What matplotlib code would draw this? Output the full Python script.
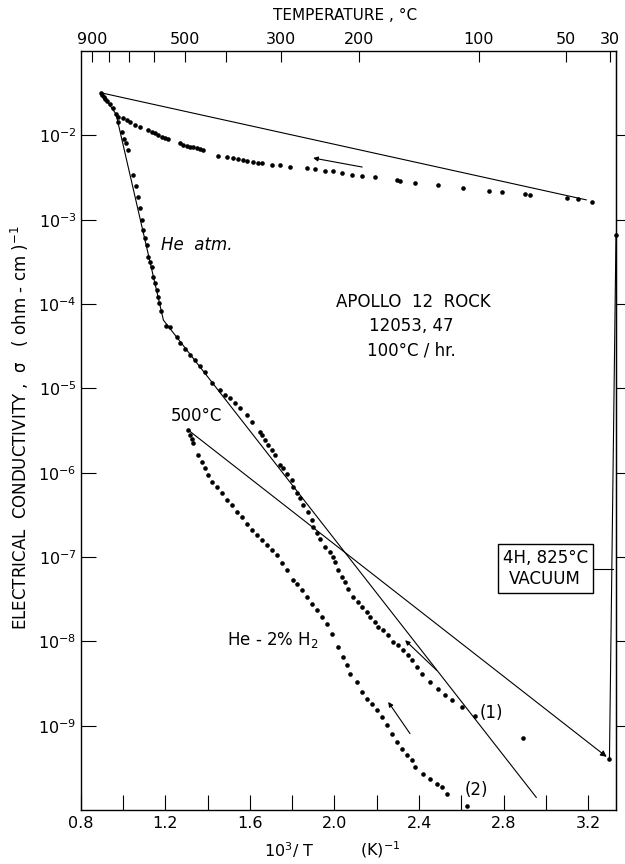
import numpy as np
import matplotlib.pyplot as plt
from matplotlib.ticker import NullLocator, FixedLocator

plt.rcParams['font.family'] = ['DejaVu Sans']
plt.rcParams['mathtext.default'] = 'regular'

# upper dotted branch (cooling after the He atm. run), x = 10^3/T, log10(sigma)
cool_x = [0.978, 1.002, 1.017, 1.033, 1.057, 1.080, 1.120, 1.136, 1.151, 1.167, 1.183, 1.199,
          1.214, 1.270, 1.285, 1.301, 1.317, 1.333, 1.348, 1.364, 1.380, 1.451, 1.490, 1.522,
          1.545, 1.569, 1.585, 1.616, 1.640, 1.656, 1.703, 1.742, 1.790, 1.868, 1.908, 1.955,
          1.994, 2.034, 2.081, 2.128, 2.191, 2.294, 2.310, 2.381, 2.491, 2.609, 2.732, 2.790,
          2.901, 2.924, 3.098, 3.153, 3.216]
cool_log = [-1.779, -1.799, -1.819, -1.838, -1.878, -1.898, -1.937, -1.957, -1.977, -1.996, -2.016, -2.036,
            -2.048, -2.095, -2.115, -2.127, -2.135, -2.143, -2.155, -2.166, -2.174, -2.246, -2.261, -2.273,
            -2.285, -2.293, -2.301, -2.313, -2.325, -2.333, -2.352, -2.355, -2.372, -2.390, -2.398, -2.420,
            -2.426, -2.443, -2.471, -2.483, -2.499, -2.530, -2.538, -2.562, -2.590, -2.621, -2.661, -2.677,
            -2.700, -2.708, -2.740, -2.756, -2.787]

# run (1), He atm.
he_x = [0.895, 0.902, 0.910, 0.917, 0.924, 0.939, 0.953, 0.967, 0.978, 0.994, 1.005, 1.014, 1.025,
        1.049, 1.061, 1.072, 1.080, 1.088, 1.096, 1.104, 1.112, 1.120, 1.128, 1.136, 1.143, 1.151,
        1.159, 1.165, 1.172, 1.180, 1.203, 1.222, 1.254, 1.269, 1.293, 1.317, 1.340, 1.364, 1.388,
        1.419, 1.459, 1.482, 1.506, 1.530, 1.553, 1.585, 1.609, 1.648, 1.656, 1.671, 1.687, 1.703,
        1.719, 1.742, 1.758, 1.774, 1.798, 1.805, 1.821, 1.837, 1.853, 1.876, 1.892, 1.900, 1.916,
        1.931, 1.955, 1.979, 1.994, 2.002, 2.018, 2.034, 2.050, 2.065, 2.089, 2.113, 2.129, 2.152,
        2.168, 2.192, 2.207, 2.231, 2.254, 2.278, 2.302, 2.325, 2.349, 2.365, 2.389, 2.412, 2.452,
        2.491, 2.522, 2.554, 2.601, 2.664, 2.893]
he_log = [-1.495, -1.520, -1.546, -1.570, -1.593, -1.629, -1.676, -1.747, -1.839, -1.957, -2.044, -2.091, -2.174,
          -2.471, -2.601, -2.728, -2.862, -3.005, -3.123, -3.218, -3.301, -3.440, -3.503, -3.559, -3.677, -3.752,
          -3.835, -3.918, -3.993, -4.084, -4.262, -4.270, -4.389, -4.467, -4.530, -4.600, -4.660, -4.730, -4.810,
          -4.942, -5.021, -5.081, -5.120, -5.179, -5.238, -5.318, -5.397, -5.516, -5.555, -5.614, -5.674, -5.733,
          -5.792, -5.911, -5.950, -6.010, -6.089, -6.168, -6.247, -6.306, -6.386, -6.465, -6.563, -6.643, -6.721,
          -6.781, -6.880, -6.940, -6.999, -7.058, -7.157, -7.236, -7.295, -7.374, -7.473, -7.533, -7.592, -7.651,
          -7.711, -7.770, -7.829, -7.868, -7.928, -8.007, -8.046, -8.106, -8.165, -8.224, -8.304, -8.382, -8.482,
          -8.560, -8.640, -8.699, -8.778, -8.888, -9.141]

# run (2), He - 2% H2
h2_x = [1.309, 1.317, 1.324, 1.332, 1.356, 1.372, 1.388, 1.403, 1.419, 1.443, 1.467, 1.490, 1.514,
        1.538, 1.561, 1.585, 1.609, 1.632, 1.656, 1.679, 1.703, 1.727, 1.750, 1.774, 1.805, 1.821,
        1.845, 1.869, 1.892, 1.916, 1.940, 1.963, 1.987, 2.018, 2.042, 2.058, 2.073, 2.105, 2.129,
        2.152, 2.176, 2.200, 2.223, 2.247, 2.270, 2.294, 2.318, 2.341, 2.365, 2.381, 2.420, 2.452,
        2.483, 2.507, 2.530, 2.625]
h2_log = [-5.496, -5.555, -5.600, -5.654, -5.792, -5.872, -5.950, -6.030, -6.109, -6.168, -6.247, -6.326, -6.386,
          -6.465, -6.524, -6.603, -6.682, -6.741, -6.801, -6.860, -6.919, -6.979, -7.077, -7.157, -7.275, -7.320,
          -7.394, -7.473, -7.552, -7.631, -7.711, -7.789, -7.908, -8.066, -8.185, -8.284, -8.382, -8.482, -8.600,
          -8.679, -8.738, -8.817, -8.897, -8.995, -9.094, -9.193, -9.272, -9.351, -9.410, -9.490, -9.568, -9.628,
          -9.687, -9.727, -9.806, -9.956]

# hand-drawn lines
top_line_x = [0.895, 3.19]
top_line_log = [-1.495, -2.765]
he_line_x = [0.895, 0.967, 1.191, 2.954]
he_line_log = [-1.495, -1.747, -4.191, -9.85]
h2_line_x = [1.309, 3.287]
h2_line_log = [-5.496, -9.37]
vac_x = [3.300, 3.331]
vac_log = [-9.40, -3.18]
box_lead_x = [3.224, 3.318]
box_lead_log = [-7.148, -7.148]

# direction arrows (tail -> head)
arrows = [((2.131, -2.376), (1.899, -2.269)),
          ((2.483, -8.343), (2.334, -7.987)),
          ((2.357, -9.094), (2.254, -8.719))]

temp_ticks = [900, 800, 700, 600, 500, 400, 300, 200, 100, 50, 30]
temp_labels = ['900', '', '', '', '500', '', '300', '200', '100', '50', '30']
x_ticks = [0.8, 1.0, 1.2, 1.4, 1.6, 1.8, 2.0, 2.2, 2.4, 2.6, 2.8, 3.0, 3.2]
y_exp = [-2, -3, -4, -5, -6, -7, -8, -9]

W, H = 625, 864
fig = plt.figure(figsize=(W / 100, H / 100), dpi=100)
ax = fig.add_axes([80.7 / W, 1 - 810 / H, (616 - 80.7) / W, (810 - 51) / H])
ax.set_yscale('log')
ax.set_xlim(0.8, 3.331)
ax.set_ylim(1e-10, 1e-1)

p = lambda v: 10 ** np.asarray(v)
ms = 3.3
ax.plot(cool_x, p(cool_log), 'o', color='k', ms=ms, mew=0, clip_on=False)
ax.plot(he_x, p(he_log), 'o', color='k', ms=ms, mew=0, clip_on=False)
ax.plot(h2_x, p(h2_log), 'o', color='k', ms=ms, mew=0, clip_on=False)
ax.plot(vac_x, p(vac_log), 'o', color='k', ms=ms, mew=0, clip_on=False)

lw = 0.8
ax.plot(top_line_x, p(top_line_log), color='k', lw=lw)
ax.plot(he_line_x, p(he_line_log), color='k', lw=lw)
ax.annotate('', xy=(h2_line_x[1], p(h2_line_log[1])), xytext=(h2_line_x[0], p(h2_line_log[0])),
            arrowprops=dict(arrowstyle='-|>', lw=lw, color='k', mutation_scale=9, shrinkA=0, shrinkB=0))
ax.plot(vac_x, p(vac_log), color='k', lw=lw, clip_on=False)
ax.plot(box_lead_x, p(box_lead_log), color='k', lw=lw, clip_on=False)
for (tx, tl), (hx, hl) in arrows:
    ax.annotate('', xy=(hx, p(hl)), xytext=(tx, p(tl)),
                arrowprops=dict(arrowstyle='-|>', lw=lw, color='k', mutation_scale=7, shrinkA=0, shrinkB=0))

fs = 11.5
ax.text(1.348, p(-3.301), 'He  atm.', fontsize=12, style='italic', ha='center', va='center')
ax.text(2.371, p(-3.977), 'APOLLO  12  ROCK', fontsize=12, ha='center', va='center')
ax.text(2.362, p(-4.262), '12053, 47', fontsize=12, ha='center', va='center')
ax.text(2.362, p(-4.547), '100°C / hr.', fontsize=12, ha='center', va='center')
ax.text(1.348, p(-5.33), '500°C', fontsize=12, ha='center', va='center')
ax.text(1.709, p(-7.987), 'He - 2% H$_2$', fontsize=12, ha='center', va='center')
ax.text(2.740, p(-8.853), '(1)', fontsize=12, ha='center', va='center')
ax.text(2.669, p(-9.767), '(2)', fontsize=12, ha='center', va='center')
ax.text(2.996, p(-7.133), '4H, 825°C\nVACUUM', fontsize=12, ha='center', va='center', linespacing=1.2,
        bbox=dict(boxstyle='square,pad=0.3', fc='white', ec='k', lw=1.0))

# bottom / left axes
ax.set_xticks(x_ticks)
ax.set_xticklabels([f'{t:.1f}' if round(t * 10) % 4 == 0 else '' for t in x_ticks])
ax.set_yticks([10.0 ** e for e in y_exp])
ax.set_yticklabels([f'$10^{{{e}}}$' for e in y_exp])
ax.yaxis.set_minor_locator(NullLocator())
ax.tick_params(axis='both', direction='in', length=11, width=0.8, labelsize=fs, top=False, right=False)
ax.tick_params(axis='x', pad=4)
ax.tick_params(axis='y', pad=3)
for s in ax.spines.values():
    s.set_linewidth(1.0)
ax.spines['top'].set_visible(False)


def to_c(x):
    x = np.asarray(x, dtype=float)
    with np.errstate(divide='ignore', invalid='ignore'):
        return 1000.0 / x - 273.0


def to_x(t):
    t = np.asarray(t, dtype=float)
    with np.errstate(divide='ignore', invalid='ignore'):
        return 1000.0 / (t + 273.0)


top = ax.secondary_xaxis('top', functions=(to_c, to_x))
top.xaxis.set_major_locator(FixedLocator(temp_ticks))
top.set_xticklabels(temp_labels)
top.xaxis.set_minor_locator(NullLocator())
top.tick_params(direction='in', length=8, width=0.8, labelsize=fs, pad=3)
top.spines['top'].set_linewidth(1.0)

right = ax.secondary_yaxis('right', functions=(lambda v: v, lambda v: v))
right.yaxis.set_major_locator(FixedLocator([10.0 ** e for e in y_exp]))
right.yaxis.set_minor_locator(NullLocator())
right.set_yticklabels([])
right.tick_params(direction='out', length=9, width=0.8)

fig.text(345 / W, 1 - 16 / H, 'TEMPERATURE , °C', fontsize=11, ha='center', va='center')
fig.text(289 / W, 1 - 850 / H, '10$^3$/ T', fontsize=11.5, ha='center', va='center')
fig.text(380 / W, 1 - 850 / H, '(K)$^{-1}$', fontsize=11.5, ha='center', va='center')
fig.text(20 / W, 1 - 428 / H, 'ELECTRICAL  CONDUCTIVITY ,  σ   ( ohm - cm )$^{-1}$', fontsize=12,
         rotation=90, ha='center', va='center')

fig.savefig('out.png', dpi=100, facecolor='white')
